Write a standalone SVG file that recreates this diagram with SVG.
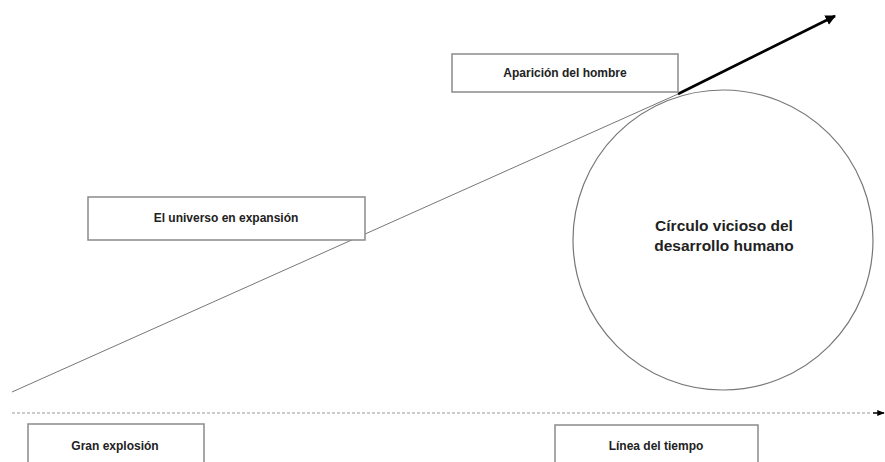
<svg xmlns="http://www.w3.org/2000/svg" width="885" height="462" viewBox="0 0 885 462">
<style>
.box{fill:#fff;stroke:#8a8a8a;stroke-width:1.5}
.lbl{font-family:"Liberation Sans",Arial,sans-serif;font-weight:bold;font-size:12px;fill:#222;text-anchor:middle}
.big{font-size:15.5px}
</style>
<defs>
<marker id="ah" viewBox="0 0 10 10" refX="9" refY="5" markerWidth="4" markerHeight="4" orient="auto"><path d="M0,0 L10,5 L0,10 z" fill="#000"/></marker>
<marker id="ah2" viewBox="0 0 10 10" refX="9" refY="5" markerWidth="5" markerHeight="5" orient="auto"><path d="M0,1 L10,5 L0,9 z" fill="#000"/></marker>
</defs>
<g id="connectors">
<line x1="12" y1="392" x2="678" y2="94" stroke="#777" stroke-width="1"/>
<line x1="678" y1="94" x2="835" y2="16" stroke="#000" stroke-width="2.6" marker-end="url(#ah)"/>
<line x1="12" y1="413" x2="872" y2="413" stroke="#999" stroke-width="1" stroke-dasharray="3,2"/>
<line x1="873" y1="413" x2="884" y2="413" stroke="#000" stroke-width="1.5" marker-end="url(#ah2)"/>
</g>
<g id="circle">
<circle cx="723" cy="240" r="150" fill="none" stroke="#777" stroke-width="1.2"/>
<text class="lbl big" x="724" y="231">Círculo vicioso del</text>
<text class="lbl big" x="724" y="251">desarrollo humano</text>
</g>
<g id="aparicion">
<rect class="box" x="452" y="54" width="226" height="38"/>
<text class="lbl" x="565" y="77">Aparición del hombre</text>
</g>
<g id="universo">
<rect class="box" x="88" y="197" width="277" height="43"/>
<text class="lbl" x="226" y="222">El universo en expansión</text>
</g>
<g id="gran">
<rect class="box" x="28" y="424" width="176" height="50"/>
<text class="lbl" x="115" y="450">Gran explosión</text>
</g>
<g id="linea">
<rect class="box" x="555" y="425" width="203" height="50"/>
<text class="lbl" x="656" y="450">Línea del tiempo</text>
</g>
</svg>
